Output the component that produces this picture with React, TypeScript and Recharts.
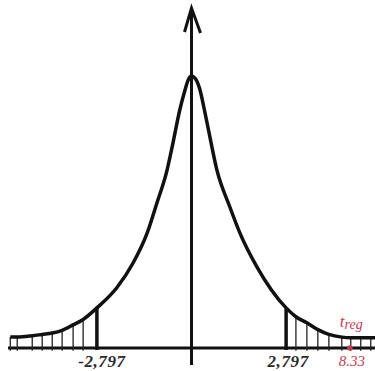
import React from 'react';
import { ComposedChart, Line, XAxis, YAxis, ReferenceLine, ReferenceDot } from 'recharts';

// density curve of the t statistic, sampled along the axis
const curveT = [
  -11.88, -10.68, -8.45, -7.21, -6.13, -5.2, -4.31, -3.61, -2.797, -1.86, -1.28, -0.87,
  -0.63, -0.41, -0.3, -0.18, -0.1, -0.04, 0, 0.05, 0.12, 0.2, 0.26, 0.43, 0.72, 0.98, 1.52, 2.797,
  3.36, 4.09, 4.94, 5.94, 7.33, 8.45, 9.88, 11.53, 12.3,
];
const curveH = [
  0.016, 0.016, 0.018, 0.02, 0.022, 0.026, 0.034, 0.042, 0.059, 0.089, 0.125, 0.169,
  0.213, 0.262, 0.301, 0.35, 0.378, 0.396, 0.4, 0.397, 0.382, 0.35, 0.325, 0.262, 0.207, 0.169, 0.119, 0.059,
  0.046, 0.037, 0.027, 0.02, 0.016, 0.015, 0.015, 0.015, 0.015,
];

// critical value and the regression t statistic
const tCrit = 2.797;
const tReg = 8.33;
const critLabels = ['-2,797', '2,797'];
const tRegLabel = '8.33';

// hatching inside the two rejection regions
const hatchLeft = [-11.88, -10.68, -8.45, -7.21, -6.13, -5.2, -4.31, -3.61];
const hatchRight = [3.36, 4.09, 4.94, 5.94, 7.33, 8.45, 9.88, 11.53];

const data = curveT.map((t, i) => ({ t, h: curveH[i] }));
const heightAt = (t: number) => data.find((d) => d.t === t)?.h ?? 0;

const INK = '#111';
const RED = '#bf3c55';
const FONT = '"Liberation Serif", "Times New Roman", serif';

function ArrowAxis(props: any) {
  const { x1, y1, x2, y2 } = props;
  const top = Math.min(y1, y2);
  const bottom = Math.max(y1, y2);
  const x = (x1 + x2) / 2;
  return (
    <g>
      <line x1={x} y1={bottom} x2={x} y2={top + 3} stroke={INK} strokeWidth={3} />
      <path
        d={`M${x - 7},${top + 24} L${x},${top} L${x + 9},${top + 25}`}
        fill="none"
        stroke={INK}
        strokeWidth={3}
        strokeLinejoin="miter"
      />
    </g>
  );
}

function critLabel(text: string, dx: number) {
  return (props: any) => {
    const vb = props.viewBox || {};
    const cx = vb.x + (vb.width || 0) / 2;
    const cy = vb.y + (vb.height || 0) / 2;
    return (
      <text
        x={cx + dx}
        y={cy + 19}
        textAnchor="middle"
        fontFamily={FONT}
        fontStyle="italic"
        fontWeight="bold"
        fontSize={17}
        letterSpacing={0.6}
        fill="#2a2a2a"
      >
        {text}
      </text>
    );
  };
}

function tRegText(props: any) {
  const vb = props.viewBox || {};
  const cx = vb.x + (vb.width || 0) / 2;
  const cy = vb.y + (vb.height || 0) / 2;
  return (
    <g fontFamily={FONT} fontStyle="italic">
      <text x={cx - 10} y={cy - 21} fill={RED} fontSize={17}>
        t
        <tspan fontSize={14} dy={2}>
          reg
        </tspan>
      </text>
      <text x={cx + 2} y={cy + 18} textAnchor="middle" fill={RED} fontSize={15}>
        {tRegLabel}
      </text>
    </g>
  );
}

export default function App() {
  return (
    <div style={{ position: 'absolute', left: 0, top: 0, width: 375, height: 371, background: '#fff' }}>
      <ComposedChart
        width={375}
        height={371}
        data={data}
        margin={{ top: 8, right: 0, bottom: 6, left: 8 }}
      >
        <XAxis dataKey="t" type="number" scale={'symlog' as any} domain={[-12.3, 12.3]} hide />
        <YAxis type="number" domain={[-0.025, 0.5]} hide />

        {/* horizontal axis */}
        <ReferenceLine y={0} stroke={INK} strokeWidth={3} />

        {/* vertical axis with arrow */}
        <ReferenceLine
          segment={[
            { x: 0, y: -0.025 },
            { x: 0, y: 0.5 },
          ]}
          shape={ArrowAxis}
        />

        {/* hatching of the tails */}
        {[...hatchLeft, ...hatchRight].map((t) => (
          <ReferenceLine
            key={`h${t}`}
            segment={[
              { x: t, y: -0.004 },
              { x: t, y: heightAt(t) },
            ]}
            stroke="#222"
            strokeWidth={1.3}
          />
        ))}

        {/* critical value lines */}
        {[-tCrit, tCrit].map((t) => (
          <ReferenceLine
            key={`c${t}`}
            segment={[
              { x: t, y: -0.003 },
              { x: t, y: heightAt(t) },
            ]}
            stroke={INK}
            strokeWidth={3.5}
          />
        ))}

        <Line
          dataKey="h"
          type="monotone"
          stroke={INK}
          strokeWidth={3.5}
          dot={false}
          isAnimationActive={false}
        />

        <ReferenceDot x={-tCrit} y={0} r={2} fill="none" stroke="none" label={{ content: critLabel(critLabels[0], 5) }} />
        <ReferenceDot x={tCrit} y={0} r={2} fill="none" stroke="none" label={{ content: critLabel(critLabels[1], 2) }} />
        <ReferenceDot x={tReg} y={0} r={2.8} fill={RED} stroke="none" label={{ content: tRegText }} />
      </ComposedChart>
    </div>
  );
}
